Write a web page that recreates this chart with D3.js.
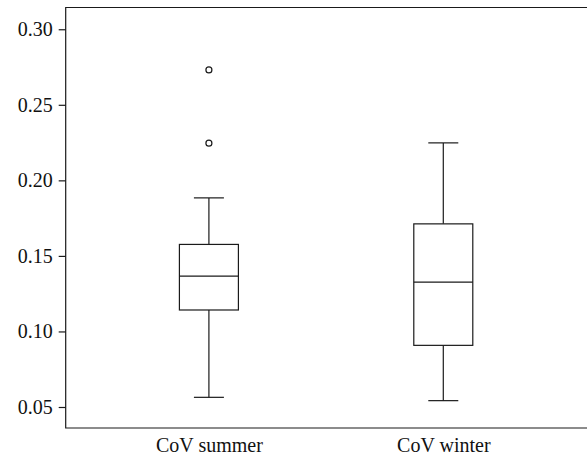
<!DOCTYPE html>
<html><head><meta charset="utf-8">
<script src="https://cdn.jsdelivr.net/npm/d3@7"></script>
<style>body{margin:0;background:#fff}svg{display:block}text{font-family:"Liberation Serif","DejaVu Serif",serif;fill:#111}</style>
</head><body><svg id="c" width="587" height="459"></svg>
<script>
const categories = ["CoV summer", "CoV winter"];
const whiskerLow = [0.0564, 0.0542];
const q1 = [0.1142, 0.0908];
const median = [0.1366, 0.1327];
const q3 = [0.1576, 0.1712];
const whiskerHigh = [0.1884, 0.2248];
const outliers = [[0.2731, 0.2246], []];
const yTicks = [0.05, 0.10, 0.15, 0.20, 0.25, 0.30];

const svg = d3.select("#c");
const L = 65.7, R = 586.5, T = 7.5, B = 428;
const y = d3.scaleLinear().domain([0.0361, 0.3144]).range([B, T]);
const x = d3.scalePoint().domain(categories).range([L, R]).padding(0.611);
const stroke = "#1a1a1a";
const fs = 20;

// frame (left, top, bottom)
svg.append("path").attr("d", `M${R+2},${T}H${L}V${B}H${R+2}`).attr("fill","none").attr("stroke",stroke).attr("stroke-width",1.2);

const yAxis = d3.axisLeft(y).tickValues(yTicks).tickFormat(d3.format(".2f")).tickSize(7).tickPadding(6);
const ga = svg.append("g").attr("transform",`translate(${L},0)`).call(yAxis);
ga.select(".domain").remove();
ga.selectAll(".tick line").attr("stroke",stroke).attr("stroke-width",1.2);
ga.selectAll(".tick text").attr("font-size",fs).attr("font-family",'"Liberation Serif",serif').attr("fill","#111");

const xAxis = d3.axisBottom(x).tickSize(0).tickPadding(10);
const gx = svg.append("g").attr("transform",`translate(0,${B})`).call(xAxis);
gx.select(".domain").remove();
gx.selectAll(".tick text").attr("font-size",fs).attr("font-family",'"Liberation Serif",serif').attr("fill","#111");

const bw = 59, cw = 30;
categories.forEach((c,i)=>{
  const cx = x(c);
  const g = svg.append("g").attr("fill","none").attr("stroke",stroke).attr("stroke-width",1.2);
  g.append("line").attr("x1",cx).attr("x2",cx).attr("y1",y(whiskerLow[i])).attr("y2",y(q1[i]));
  g.append("line").attr("x1",cx).attr("x2",cx).attr("y1",y(q3[i])).attr("y2",y(whiskerHigh[i]));
  g.append("line").attr("x1",cx-cw/2).attr("x2",cx+cw/2).attr("y1",y(whiskerLow[i])).attr("y2",y(whiskerLow[i]));
  g.append("line").attr("x1",cx-cw/2).attr("x2",cx+cw/2).attr("y1",y(whiskerHigh[i])).attr("y2",y(whiskerHigh[i]));
  g.append("rect").attr("x",cx-bw/2).attr("width",bw).attr("y",y(q3[i])).attr("height",y(q1[i])-y(q3[i])).attr("fill","#fff");
  g.append("line").attr("x1",cx-bw/2).attr("x2",cx+bw/2).attr("y1",y(median[i])).attr("y2",y(median[i]));
  outliers[i].forEach(v=>{
    g.append("circle").attr("cx",cx).attr("cy",y(v)).attr("r",3);
  });
});
</script></body></html>
